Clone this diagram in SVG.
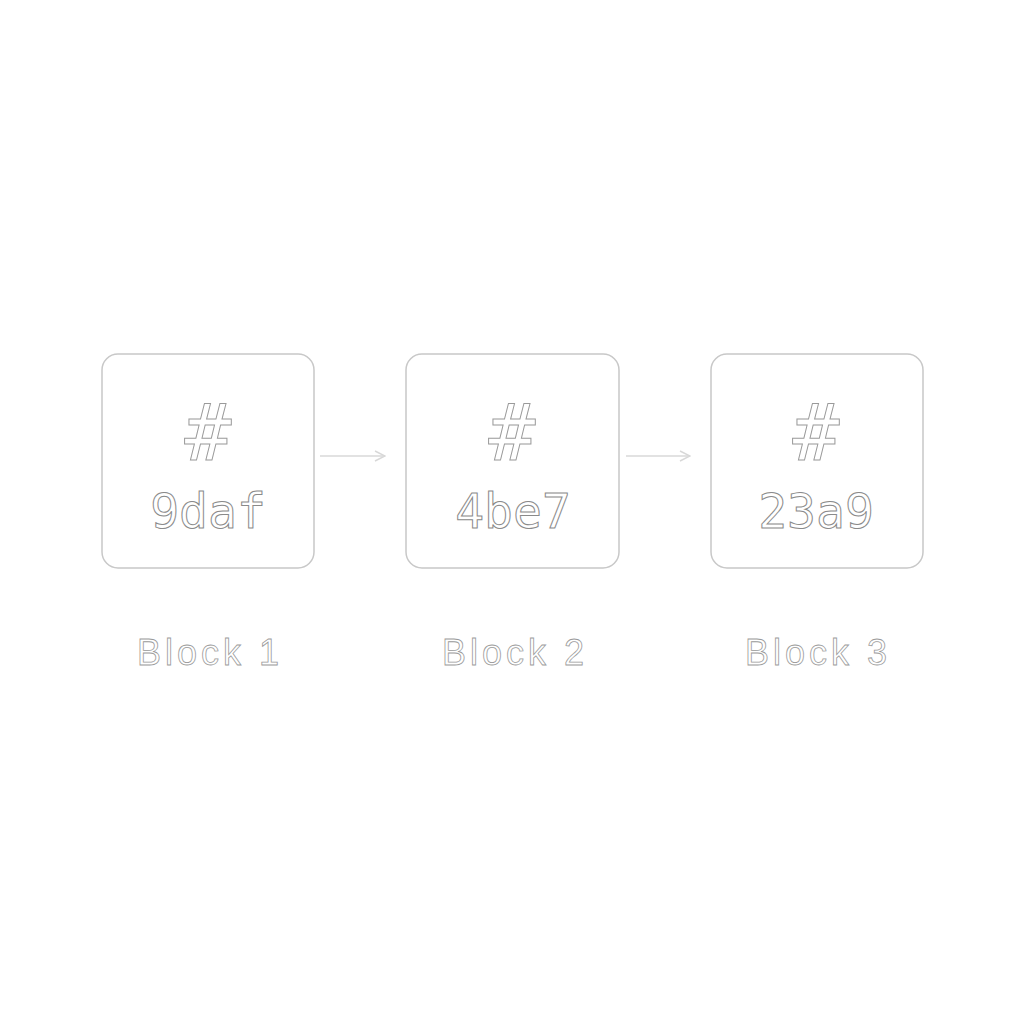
<svg xmlns="http://www.w3.org/2000/svg" width="1024" height="1024" viewBox="0 0 1024 1024">
<defs>
<style>
.box{fill:#ffffff;stroke:#c8c8c8;stroke-width:1.5}
.hash{font-family:"DejaVu Sans Mono","Liberation Mono",monospace;font-size:78px;fill:#ffffff;stroke:#9a9a9a;stroke-width:1;text-anchor:middle}
.hex{font-family:"DejaVu Sans Mono","Liberation Mono",monospace;font-size:48px;fill:#ffffff;stroke:#8a8a8a;stroke-width:1;text-anchor:middle}
.lbl{font-family:"Liberation Sans",Arial,sans-serif;font-size:36px;fill:#ffffff;stroke:#9a9a9a;stroke-width:0.8;text-anchor:middle;letter-spacing:4px}
.conn{fill:none;stroke:#d8d8d8;stroke-width:1.5}
</style>
<marker id="arr" viewBox="0 0 12 12" refX="11" refY="6" markerWidth="12" markerHeight="12" markerUnits="userSpaceOnUse" orient="auto">
<path d="M1 1 L11 6 L1 11" fill="none" stroke="#d8d8d8" stroke-width="1.5"/>
</marker>
</defs>
<rect width="1024" height="1024" fill="#ffffff"/>
<g id="connectors">
<line class="conn" x1="320" y1="456" x2="385" y2="456" marker-end="url(#arr)"/>
<line class="conn" x1="626" y1="456" x2="690" y2="456" marker-end="url(#arr)"/>
</g>
<g id="block1">
<rect class="box" x="102" y="354" width="212" height="214" rx="16"/>
<text class="hash" x="208" y="460">#</text>
<text class="hex" x="208" y="528">9daf</text>
<text class="lbl" x="210" y="665">Block 1</text>
</g>
<g id="block2">
<rect class="box" x="406" y="354" width="213" height="214" rx="16"/>
<text class="hash" x="512" y="460">#</text>
<text class="hex" x="513" y="528">4be7</text>
<text class="lbl" x="515" y="665">Block 2</text>
</g>
<g id="block3">
<rect class="box" x="711" y="354" width="212" height="214" rx="16"/>
<text class="hash" x="816" y="460">#</text>
<text class="hex" x="816" y="528">23a9</text>
<text class="lbl" x="818" y="665">Block 3</text>
</g>
</svg>
